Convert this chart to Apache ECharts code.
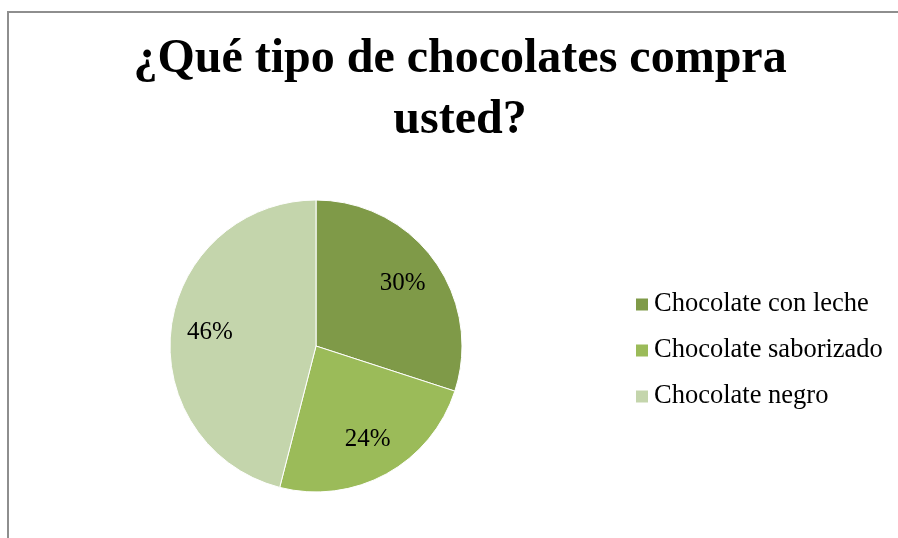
<!DOCTYPE html>
<html>
<head>
<meta charset="utf-8">
<script src="https://cdn.jsdelivr.net/npm/echarts@6/dist/echarts.min.js"></script>
<style>
  html, body { margin: 0; padding: 0; background: #ffffff; }
  #chart { width: 898px; height: 538px; }
</style>
</head>
<body>
<div id="chart"></div>
<script>
// Survey: which type of chocolate do you buy?
const categories = ['Chocolate con leche', 'Chocolate saborizado', 'Chocolate negro'];
const shares = [30, 24, 46];
const colors = ['#7f9a48', '#9bbb59', '#c4d5ac'];

const pieData = categories.map((name, i) => ({
  name: name,
  value: shares[i],
  itemStyle: { color: colors[i] }
}));

const serif = '"Liberation Serif", "Times New Roman", serif';
const center = [316, 346];

const chart = echarts.init(document.getElementById('chart'), null, { renderer: 'canvas' });
chart.setOption({
  backgroundColor: '#ffffff',
  animation: false,
  graphic: [{
    type: 'rect',
    shape: { x: 8, y: 12, width: 900, height: 540 },
    style: { fill: 'none', stroke: '#8e8e8e', lineWidth: 2 },
    silent: true
  }],
  title: {
    text: '¿Qué tipo de chocolates compra\nusted?',
    left: 460,
    top: 29,
    padding: 0,
    textAlign: 'center',
    textStyle: {
      fontFamily: serif,
      fontWeight: 'bold',
      fontSize: 48,
      lineHeight: 61,
      color: '#000000'
    }
  },
  legend: {
    orient: 'vertical',
    left: 634,
    top: 291,
    padding: 0,
    itemWidth: 14,
    itemHeight: 14,
    itemGap: 19,
    icon: 'rect',
    data: categories,
    textStyle: { fontFamily: serif, fontSize: 26.5, color: '#000000' }
  },
  series: [
    {
      type: 'pie',
      center: center,
      radius: [0, 146],
      startAngle: 90,
      clockwise: true,
      data: pieData,
      label: { show: false },
      labelLine: { show: false },
      itemStyle: { borderColor: '#ffffff', borderWidth: 1 },
      emphasis: { disabled: true }
    },
    {
      // transparent ring that carries the percentage labels further out
      type: 'pie',
      center: center,
      radius: [62, 146],
      startAngle: 90,
      clockwise: true,
      silent: true,
      data: pieData.map(d => ({ name: d.name, value: d.value })),
      itemStyle: { color: 'rgba(0,0,0,0)' },
      label: {
        show: true,
        position: 'inside',
        formatter: '{c}%',
        fontFamily: serif,
        fontSize: 25,
        color: '#000000'
      },
      labelLine: { show: false },
      emphasis: { disabled: true }
    }
  ]
});
</script>
</body>
</html>
